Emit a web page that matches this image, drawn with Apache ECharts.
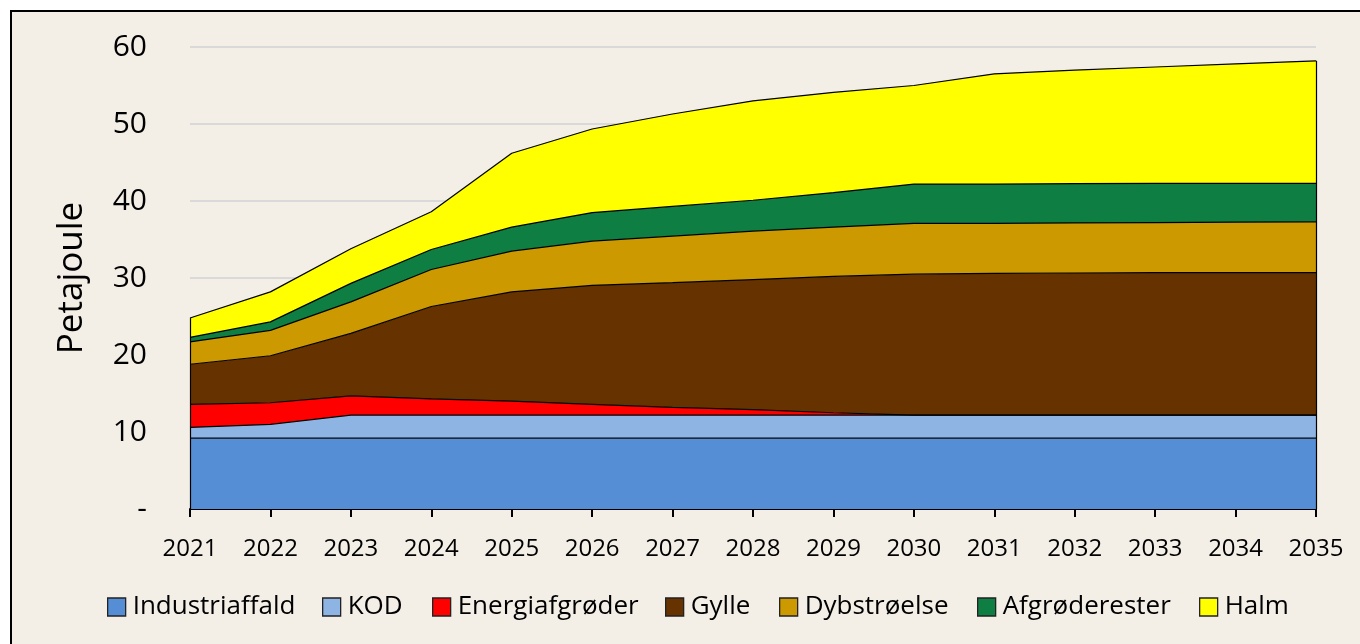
<!DOCTYPE html>
<html>
<head>
<meta charset="utf-8">
<script src="https://cdn.jsdelivr.net/npm/echarts@6/dist/echarts.min.js"></script>
<style>
  html, body { margin: 0; padding: 0; background: #fff; }
  #frame {
    position: absolute; left: 10px; top: 10px; width: 1360px; height: 644px;
    background: #F3EFE6; border-top: 2px solid #000; border-left: 2px solid #000;
    box-sizing: border-box;
  }
  #chart { position: absolute; left: 0; top: 0; width: 1360px; height: 644px; }
</style>
</head>
<body>
<div id="frame"></div>
<div id="chart"></div>
<script>
const years = ["2021", "2022", "2023", "2024", "2025", "2026", "2027", "2028",
  "2029", "2030", "2031", "2032", "2033", "2034", "2035"];

// Petajoule per source (stacked from bottom)
const industriaffald = [9.2, 9.2, 9.2, 9.2, 9.2, 9.2, 9.2, 9.2, 9.2, 9.2, 9.2, 9.2, 9.2, 9.2, 9.2];
const kod = [1.4, 1.8, 3.0, 3.0, 3.0, 3.0, 3.0, 3.0, 3.0, 3.0, 3.0, 3.0, 3.0, 3.0, 3.0];
const energiafgroder = [3.0, 2.8, 2.5, 2.1, 1.8, 1.4, 1.0, 0.7, 0.3, 0, 0, 0, 0, 0, 0];
const gylle = [5.2, 6.1, 8.1, 12.0, 14.2, 15.45, 16.2, 16.9, 17.7, 18.3, 18.4, 18.45, 18.5, 18.5, 18.5];
const dybstroelse = [2.9, 3.3, 4.1, 4.8, 5.3, 5.75, 6.05, 6.3, 6.4, 6.6, 6.5, 6.5, 6.5, 6.55, 6.6];
const afgroderester = [0.6, 1.1, 2.4, 2.6, 3.1, 3.7, 3.85, 4.0, 4.5, 5.1, 5.1, 5.1, 5.1, 5.05, 5.0];
const halm = [2.5, 3.9, 4.5, 4.9, 9.6, 10.85, 12.0, 12.9, 13.0, 12.8, 14.3, 14.75, 15.1, 15.5, 15.9];

const seriesDefs = [
  { name: "Industriaffald", data: industriaffald, color: "#558ED5" },
  { name: "KOD", data: kod, color: "#8EB4E3" },
  { name: "Energiafgrøder", data: energiafgroder, color: "#FF0000" },
  { name: "Gylle", data: gylle, color: "#663300" },
  { name: "Dybstrøelse", data: dybstroelse, color: "#CC9900" },
  { name: "Afgrøderester", data: afgroderester, color: "#0E7E42" },
  { name: "Halm", data: halm, color: "#FFFF00" },
];

// x position of each legend swatch, as in the original layout
// (legend box has 5px padding, so the swatch sits 5px to the right)
const legendLeft = [102, 317, 427, 660, 774, 972, 1194];

const font = "'Open Sans', sans-serif";

// totals, used for the vertical outline at both ends of the stack
const totals = years.map((_, i) => seriesDefs.reduce((s, d) => s + d.data[i], 0));
const last = years.length - 1;

const chart = echarts.init(document.getElementById("chart"));

const series = seriesDefs.map((d, idx) => {
  const s = {
    name: d.name,
    type: "line",
    stack: "total",
    data: d.data,
    showSymbol: false,
    symbol: "none",
    color: d.color,
    lineStyle: { color: "#000", width: 1.2 },
    areaStyle: { color: d.color, opacity: 1 },
    emphasis: { disabled: true },
  };
  if (idx === seriesDefs.length - 1) {
    s.markLine = {
      silent: true,
      symbol: ["none", "none"],
      label: { show: false },
      lineStyle: { color: "#000", width: 1.2, type: "solid" },
      data: [
        [{ coord: [years[0], 0] }, { coord: [years[0], totals[0]] }],
        [{ coord: [years[last], 0] }, { coord: [years[last], totals[last]] }],
      ],
    };
  }
  return s;
});

const legends = seriesDefs.map((d, i) => ({
  left: legendLeft[i],
  top: 589,
  icon: "rect",
  itemWidth: 18,
  itemHeight: 18,
  selectedMode: false,
  textStyle: { fontSize: 26, color: "#000", fontFamily: font, padding: [0, 0, 0, 2] },
  itemStyle: { borderColor: "#222", borderWidth: 1.3 },
  data: [d.name],
}));

const option = {
  animation: false,
  backgroundColor: "transparent",
  textStyle: { fontFamily: font },
  grid: { left: 190, right: 44, top: 47, bottom: 135 },
  legend: legends,
  xAxis: {
    type: "category",
    boundaryGap: false,
    data: years,
    axisLine: { lineStyle: { color: "#000", width: 2 } },
    axisTick: { show: true, length: 8, lineStyle: { color: "#000", width: 2 } },
    axisLabel: { color: "#000", fontSize: 24, margin: 28, fontFamily: font },
  },
  yAxis: {
    type: "value",
    min: 0,
    max: 60,
    interval: 10,
    name: "Petajoule",
    nameLocation: "middle",
    nameGap: 100,
    nameRotate: 90,
    nameTextStyle: { fontSize: 35, color: "#000", fontFamily: font },
    axisLine: { show: false },
    axisTick: { show: false },
    axisLabel: {
      color: "#000",
      fontSize: 30,
      margin: 43,
      fontFamily: font,
      formatter: (v) => (v === 0 ? "-" : String(v)),
    },
    splitLine: { lineStyle: { color: "#D9D9D9", width: 2 } },
  },
  series: series,
};

chart.setOption(option);
</script>
</body>
</html>
